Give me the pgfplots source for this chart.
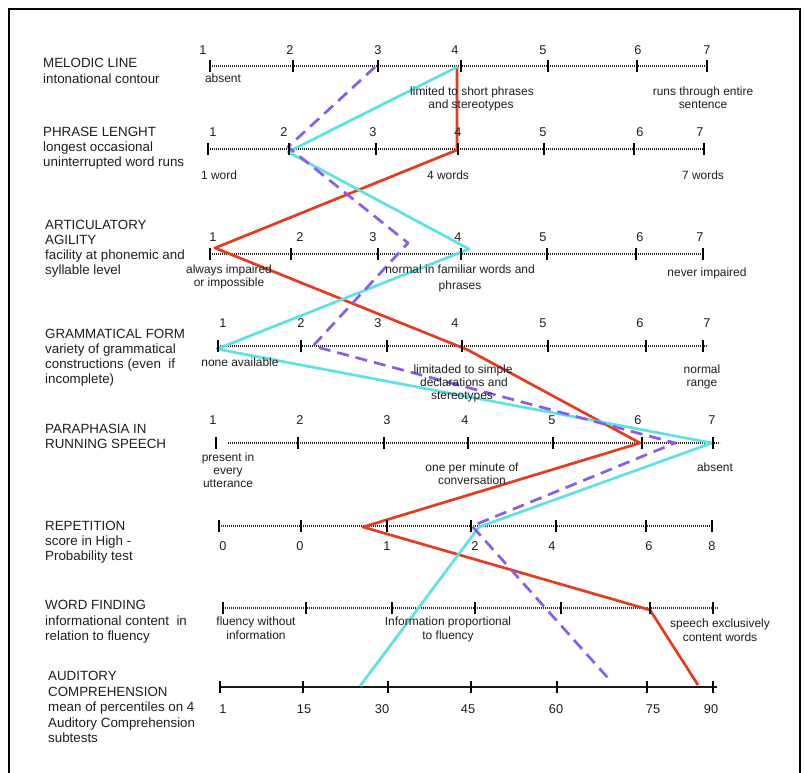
\documentclass[border=0pt]{standalone}
\usepackage{pgfplots}
\pgfplotsset{compat=1.18}
\usepackage{fontspec}
\setmainfont{Liberation Sans}
\definecolor{redl}{HTML}{E63C1E}
\definecolor{cyanl}{HTML}{5CE2E2}
\definecolor{purl}{HTML}{8A5CEB}
\definecolor{txt}{HTML}{1E1E1E}
\tikzset{
  lab/.style={anchor=base west, inner sep=0pt, font=\fontsize{13.4}{15}\selectfont, text=txt},
  sl/.style={anchor=base, inner sep=0pt, font=\fontsize{12}{14}\selectfont, text=txt},
  num/.style={anchor=base, inner sep=0pt, font=\fontsize{12.8}{14}\selectfont, text=txt},
}
\pgfplotsset{
  scaleline/.style={draw=black!85, line width=1.2bp, dash pattern=on 1.3bp off 0.7bp},
  tickrow/.style={only marks, mark=|, mark size=6bp, mark options={draw=black, line width=1.4bp}},
}
\newcommand\numrow[2]{%
  \foreach \xx/\tt in {#2}{%
    \edef\tmp{\noexpand\node[num] at (axis cs:\xx,#1) {\tt};}\tmp}}
\begin{document}
\begin{tikzpicture}
\begin{axis}[
  width=804bp, height=773bp, scale only axis,
  xmin=0, xmax=804, ymin=0, ymax=773, y dir=reverse,
  hide axis, clip=false,
]
\coordinate (BL) at (axis cs:0,773);
\coordinate (TR) at (axis cs:804,0);
% frame
\draw[line width=2.2bp, black] (axis cs:9,773) -- (axis cs:9,9) -- (axis cs:800,9) -- (axis cs:800,773);

% ---- scale lines ----
\addplot[scaleline] coordinates {(210,66) (707,66)};
\addplot[scaleline] coordinates {(208,149) (704,149)};
\addplot[scaleline] coordinates {(210,254) (703,254)};
\addplot[scaleline] coordinates {(218,346) (708,346)};
\addplot[scaleline] coordinates {(228,443) (720,443)};
\addplot[scaleline] coordinates {(219,526) (712,526)};
\addplot[scaleline] coordinates {(223,608) (718,608)};
\addplot[draw=black!90, line width=1.4bp] coordinates {(220,687) (717,687)};

% ---- ticks ----
\addplot[tickrow] coordinates {(210,66) (293,66) (378,66) (461,66) (548,66) (637,66) (707,66)};
\addplot[tickrow] coordinates {(208,149) (289,149) (376,149) (458,149) (544,149) (634,149) (704,149)};
\addplot[tickrow] coordinates {(210,254) (291,254) (378,254) (461,254) (547,254) (636,254) (703,254)};
\addplot[tickrow] coordinates {(218,346) (301,346) (387,346) (462,346) (548,346) (646,346) (703,346)};
\addplot[tickrow] coordinates {(216,443) (298,443) (384,443) (468,443) (553,443) (642,443) (713,443)};
\addplot[tickrow] coordinates {(219,526) (301,526) (387,526) (471,526) (556,526) (646,526) (712,526)};
\addplot[tickrow] coordinates {(223,608) (306,608) (392,608) (475,608) (561,608) (650,608) (713,608)};
\addplot[tickrow] coordinates {(220,687) (303,687) (388,687) (471,687) (557,687) (647,687) (713,687)};

% ---- profiles ----
\addplot[redl, line width=2.7bp, line join=round] coordinates {
 (457,67) (457,150) (215,248) (468,350) (640,443) (363,527) (650,610) (698,685)};
\addplot[cyanl, line width=2.7bp, line join=round] coordinates {
 (457,67) (288,152) (469,249) (217,349) (712,443) (479,527) (360,686)};
\addplot[purl, line width=2.7bp, line join=round, dash pattern=on 12bp off 7bp] coordinates {
 (375,67) (288,147) (408,243) (313,346) (675,443) (472,526) (608,678)};

% ---- left labels ----
\node[lab] at (axis cs:43,68) {MELODIC LINE};
\node[lab] at (axis cs:43,84) {intonational contour};
\node[lab] at (axis cs:43,137) {PHRASE LENGHT};
\node[lab] at (axis cs:43,152) {longest occasional};
\node[lab] at (axis cs:43,167) {uninterrupted word runs};
\node[lab] at (axis cs:45,229) {ARTICULATORY};
\node[lab] at (axis cs:45,244) {AGILITY};
\node[lab] at (axis cs:45,259) {facility at phonemic and};
\node[lab] at (axis cs:45,274) {syllable level};
\node[lab] at (axis cs:45,338) {GRAMMATICAL FORM};
\node[lab] at (axis cs:45,353) {variety of grammatical};
\node[lab] at (axis cs:45,368) {constructions (even\ \ if};
\node[lab] at (axis cs:45,383) {incomplete)};
\node[lab] at (axis cs:45,433) {PARAPHASIA IN};
\node[lab] at (axis cs:45,448) {RUNNING SPEECH};
\node[lab] at (axis cs:45,530) {REPETITION};
\node[lab] at (axis cs:45,545) {score in High -};
\node[lab] at (axis cs:45,560) {Probability test};
\node[lab] at (axis cs:45,609) {WORD FINDING};
\node[lab] at (axis cs:45,625) {informational content\ \ in};
\node[lab] at (axis cs:45,640) {relation to fluency};
\node[lab] at (axis cs:48,680) {AUDITORY};
\node[lab] at (axis cs:48,696) {COMPREHENSION};
\node[lab] at (axis cs:48,711) {mean of percentiles on 4};
\node[lab] at (axis cs:48,727) {Auditory Comprehension};
\node[lab] at (axis cs:48,742) {subtests};

% ---- numbers ----
\numrow{55}{203/1,290/2,378/3,455/4,543/5,638/6,707/7}
\numrow{137}{213/1,284/2,373/3,458/4,543/5,640/6,700/7}
\numrow{241}{213/1,300/2,373/3,458/4,543/5,640/6,700/7}
\numrow{327}{223/1,301/2,378/3,455/4,543/5,640/6,707/7}
\numrow{424}{213/1,300/2,387/3,465/4,552/5,638/6,712/7}
\numrow{550}{223/0,300/0,387/1,475/2,552/4,649/6,712/8}
\numrow{713}{223/1,304/15,382/30,468/45,556/60,653/75,711/90}

% ---- scale labels ----
\node[sl] at (axis cs:223,83) {absent};
\node[sl] at (axis cs:472,96) {limited to short phrases};
\node[sl] at (axis cs:471,109) {and stereotypes};
\node[sl] at (axis cs:703,96) {runs through entire};
\node[sl] at (axis cs:703,109) {sentence};
\node[sl] at (axis cs:219,180) {1 word};
\node[sl] at (axis cs:448,180) {4 words};
\node[sl] at (axis cs:703,180) {7 words};
\node[sl] at (axis cs:229,273) {always impaired};
\node[sl] at (axis cs:229,286) {or impossible};
\node[sl] at (axis cs:460,273) {normal in familiar words and};
\node[sl] at (axis cs:460,289) {phrases};
\node[sl] at (axis cs:707,276) {never impaired};
\node[sl] at (axis cs:240,366) {none available};
\node[sl] at (axis cs:463,373) {limitaded to simple};
\node[sl] at (axis cs:464,386) {declarations and};
\node[sl] at (axis cs:462,399) {stereotypes};
\node[sl] at (axis cs:702,373) {normal};
\node[sl] at (axis cs:702,386) {range};
\node[sl] at (axis cs:228,461) {present in};
\node[sl] at (axis cs:228,474) {every};
\node[sl] at (axis cs:228,487) {utterance};
\node[sl] at (axis cs:472,471) {one per minute of};
\node[sl] at (axis cs:472,484) {conversation};
\node[sl] at (axis cs:715,471) {absent};
\node[sl] at (axis cs:256,625) {fluency without};
\node[sl] at (axis cs:256,639) {information};
\node[sl] at (axis cs:448,625) {Information proportional};
\node[sl] at (axis cs:448,639) {to fluency};
\node[sl] at (axis cs:720,627) {speech exclusively};
\node[sl] at (axis cs:720,641) {content words};
\end{axis}
\pgfresetboundingbox
\path[use as bounding box] (BL) rectangle (TR);
\end{tikzpicture}
\end{document}
